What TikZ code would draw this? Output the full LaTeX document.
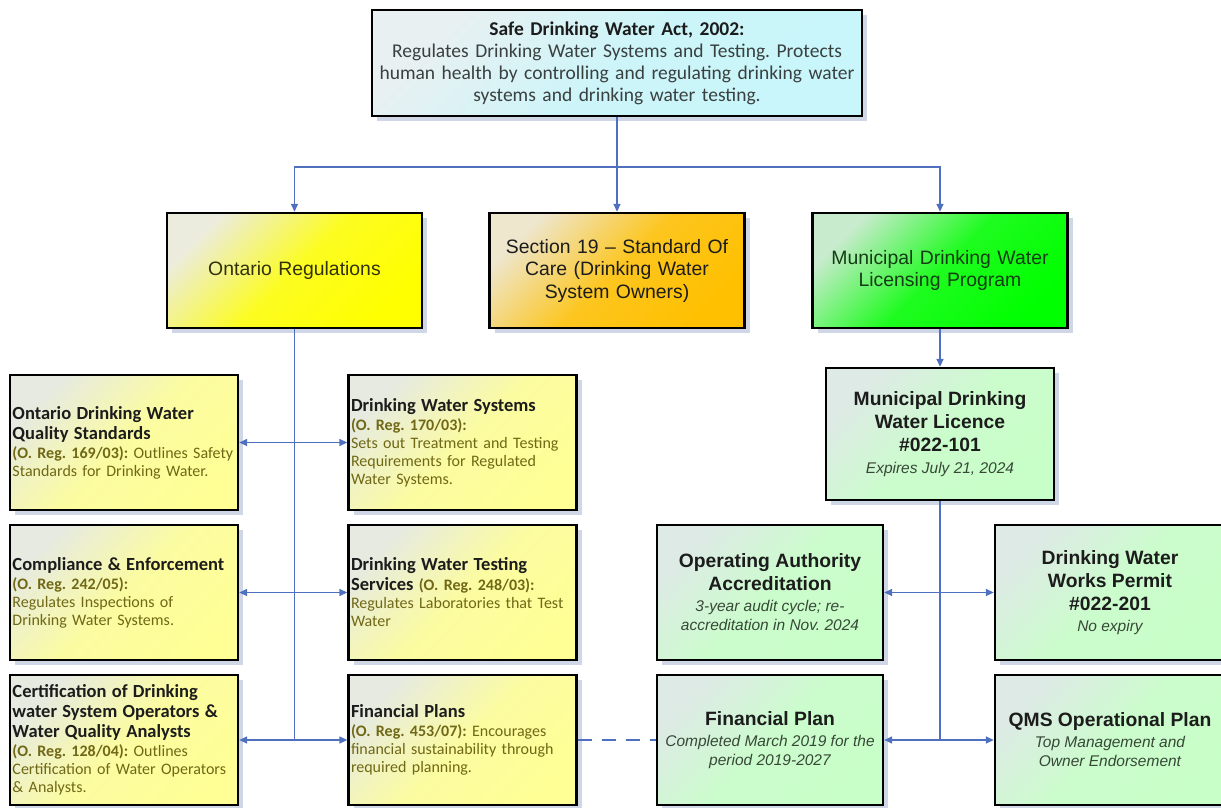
\documentclass[tikz,border=0pt]{standalone}
\usepackage{fontspec}
\setmainfont{Carlito}[Ligatures=TeX]
\newfontfamily\arialfont{Liberation Sans}[Ligatures=TeX]
\usetikzlibrary{shadows,arrows.meta}
\definecolor{conncol}{RGB}{79,112,190}
\definecolor{olivetxt}{RGB}{112,104,22}
\definecolor{darktxt}{RGB}{28,28,28}
\definecolor{greytxt}{RGB}{58,64,64}
\definecolor{greentxt}{RGB}{55,72,55}
\definecolor{darkgreentxt}{RGB}{20,60,20}
\definecolor{oliveheadtxt}{RGB}{50,50,10}
\definecolor{cyanfill}{RGB}{200,246,250}
\definecolor{cyantl}{RGB}{232,240,242}
\definecolor{yelfill}{RGB}{255,255,0}
\definecolor{yeltl}{RGB}{236,236,222}
\definecolor{orgfill}{RGB}{255,192,0}
\definecolor{orgtl}{RGB}{238,230,205}
\definecolor{grnfill}{RGB}{0,255,0}
\definecolor{grntl}{RGB}{200,235,205}
\definecolor{lyelfill}{RGB}{255,255,150}
\definecolor{lyeltl}{RGB}{230,234,225}
\definecolor{lgrnfill}{RGB}{200,255,200}
\definecolor{lgrntl}{RGB}{222,234,230}
\definecolor{shadowcol}{RGB}{196,206,226}
\newcommand\hd[1]{{\fontsize{18.5}{18}\selectfont\bfseries\color{darktxt}#1}}
\newcommand\rg[1]{\textbf{#1}}
\newcommand\itl[1]{{\fontsize{15.5}{23}\selectfont\mdseries\itshape\color{greentxt}#1}}
\frenchspacing
\begin{document}
\frenchspacing
\begin{tikzpicture}[x=1pt,y=-1pt,
  base/.style={draw=black, line width=2.4pt, inner sep=0pt,
    drop shadow={shadow xshift=5pt, shadow yshift=-5pt, fill=shadowcol, opacity=0.8}},
  grad/.style args={#1 to #2}{top color=#1, bottom color=#2, middle color=#2!85!#1, shading angle=45},
  lbox/.style={base, grad=lyeltl to lyelfill, minimum width=228pt, text width=223pt, align=left,
    font=\fontsize{16}{18}\selectfont\frenchspacing, text=olivetxt},
  midbox/.style={base, minimum width=255pt, minimum height=115pt, text width=245pt, align=center,
    font=\arialfont\fontsize{19.4}{22.5}\selectfont},
  rbox/.style={base, grad=lgrntl to lgrnfill, align=center,
    font=\arialfont\bfseries\fontsize{19.3}{23}\selectfont, text=darktxt},
  conn/.style={draw=conncol, line width=1.5pt},
  tip/.style={-{Triangle[length=8pt,width=7pt]}},
  tips/.style={{Triangle[length=8pt,width=7pt]}-{Triangle[length=8pt,width=7pt]}}
]
\useasboundingbox (0,0) rectangle (1221,807);
\fill[white] (0,0) rectangle (1221,807);

% top
\node[base, grad=cyantl to cyanfill, minimum width=490pt, minimum height=106pt, text width=484pt,
  align=center, font=\fontsize{19.5}{22}\selectfont\frenchspacing, text=greytxt] (act) at (617,63)
  {{\bfseries\color{darktxt}Safe Drinking Water Act, 2002:}\\
   Regulates Drinking Water Systems and Testing. Protects\\
   human health by controlling and regulating drinking water\\
   systems and drinking water testing.};

% second row
\node[midbox, grad=yeltl to yelfill, text=oliveheadtxt] (onreg) at (294.5,270.5) {Ontario Regulations};
\node[midbox, grad=orgtl to orgfill, text=darktxt] (sec) at (617,270.5)
  {Section 19 – Standard Of\\Care (Drinking Water\\System Owners)};
\node[midbox, grad=grntl to grnfill, text=darkgreentxt] (mun) at (940,270.5)
  {Municipal Drinking Water\\Licensing Program};

% left column
\node[lbox, minimum height=135pt] (odw) at (124,442.5)
  {\hd{Ontario Drinking Water}\\[2pt]\hd{Quality Standards}\\[1pt]
   \rg{(O. Reg. 169/03):} Outlines Safety\\Standards for Drinking Water.};
\node[lbox, minimum height=135pt] (dws) at (462.5,442.5)
  {\hd{Drinking Water Systems}\\[1pt]\rg{(O. Reg. 170/03):}\\Sets out Treatment and Testing\\
   Requirements for Regulated\\Water Systems.};
\node[lbox, minimum height=135pt] (comp) at (124,592.5)
  {\hd{Compliance \& Enforcement}\\[1pt]\rg{(O. Reg. 242/05):}\\Regulates Inspections of\\
   Drinking Water Systems.};
\node[lbox, minimum height=135pt] (dwt) at (462.5,592.5)
  {\hd{Drinking Water Testing}\\[2pt]\hd{Services} \rg{(O. Reg. 248/03):}\\
   Regulates Laboratories that Test\\Water};
\node[lbox, minimum height=130pt] (cert) at (124,740)
  {\hd{Certification of Drinking}\\[2pt]\hd{water System Operators \&}\\[2pt]
   \hd{Water Quality Analysts}\\[1pt]\rg{(O. Reg. 128/04):} Outlines\\
   Certification of Water Operators\\\& Analysts.};
\node[lbox, minimum height=130pt] (fps) at (462.5,740)
  {\hd{Financial Plans}\\[1pt]\rg{(O. Reg. 453/07):} Encourages\\
   financial sustainability through\\required planning.};

% right side
\node[rbox, minimum width=228pt, minimum height=132pt] (lic) at (940,434)
  {Municipal Drinking\\Water Licence\\\#022-101\\[-1pt]\itl{Expires July 21, 2024}};
\node[rbox, minimum width=226pt, minimum height=135pt] (oaa) at (770,592.5)
  {Operating Authority\\Accreditation\\[-2pt]\itl{3-year audit cycle; re-}\\[-4pt]
   \itl{accreditation in Nov. 2024}};
\node[rbox, minimum width=230pt, minimum height=135pt] (dwp) at (1110,592.5)
  {Drinking Water\\Works Permit\\\#022-201\\[-2pt]\itl{No expiry}};
\node[rbox, minimum width=226pt, minimum height=130pt] (fpl) at (770,740)
  {Financial Plan\\[-2pt]\itl{Completed March 2019 for the}\\[-4pt]\itl{period 2019-2027}};
\node[rbox, minimum width=230pt, minimum height=130pt] (qms) at (1110,740)
  {QMS Operational Plan\\[-2pt]\itl{Top Management and}\\[-4pt]\itl{Owner Endorsement}};

% connectors
\coordinate (j1) at (617,167);
\draw[conn] (act.south) -- (j1);
\draw[conn,tip] (j1) -| (onreg.north);
\draw[conn,tip] (j1) -- (sec.north);
\draw[conn,tip] (j1) -| (mun.north);

\draw[conn] (onreg.south) -- (onreg.south |- cert.east);
\draw[conn,tips] (odw.east) -- (dws.west);
\draw[conn,tips] (comp.east) -- (dwt.west);
\draw[conn,tips] (cert.east) -- (fps.west);
\draw[conn, dash pattern=on 14pt off 10pt] (fps.east) -- (fpl.west);

\draw[conn,tip] (mun.south) -- (lic.north);
\draw[conn] (lic.south) -- (lic.south |- qms.west);
\draw[conn,tips] (oaa.east) -- (dwp.west);
\draw[conn,tips] (fpl.east) -- (qms.west);
\end{tikzpicture}
\end{document}
